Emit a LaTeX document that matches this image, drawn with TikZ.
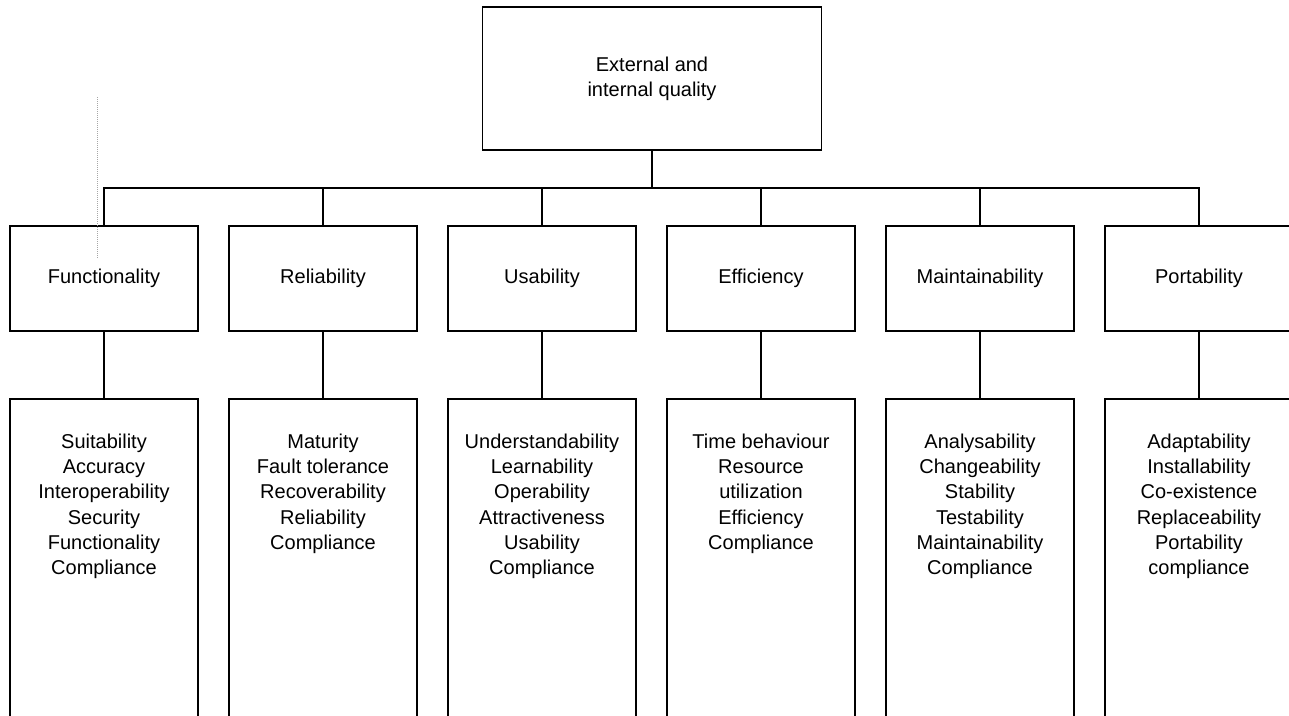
\documentclass[tikz,border=0pt]{standalone}
\usepackage{fontspec}
\setmainfont{Liberation Sans}
\usetikzlibrary{positioning}
\tikzset{node distance=21.85pt, % gap between two neighbouring boxes
      every node/.style={ % text of all boxes
      font=\fontsize{15}{19}\selectfont,
      align=center},
      box/.style={draw, line width=1.4pt, minimum width=141pt, minimum height=78.75pt, inner sep=0pt},
      listbox/.style={draw, line width=1.4pt, minimum width=141pt, minimum height=262pt, inner sep=0pt},
      listtext/.style={anchor=north, inner sep=0pt},
      link/.style={line width=1.4pt}}

\begin{document}
\begin{tikzpicture}
      \useasboundingbox (0,0) rectangle (966.75pt,-536.25pt);
      \clip (0,0) rectangle (966.75pt,-536.25pt);
      \node[draw, line width=1.4pt, minimum width=254.25pt, minimum height=107.25pt] (quality) at (489pt,-58.875pt) {External and\\internal quality};
      \node[box] (func) at (78pt,-208.875pt) {Functionality};
      \node[box, right=of func] (reli) {Reliability};
      \node[box, right=of reli] (usab) {Usability};
      \node[box, right=of usab] (effi) {Efficiency};
      \node[box, right=of effi] (main) {Maintainability};
      \node[box, right=of main] (port) {Portability};
      \foreach \n in {func,reli,usab,effi,main,port}
            \node[listbox, below=49.6pt of \n] (\n list) {};
      \node[listtext, below=26.5pt of funclist.north] {Suitability\\Accuracy\\Interoperability\\Security\\Functionality\\Compliance};
      \node[listtext, below=26.5pt of relilist.north] {Maturity\\Fault tolerance\\Recoverability\\Reliability\\Compliance};
      \node[listtext, below=26.5pt of usablist.north] {Understandability\\Learnability\\Operability\\Attractiveness\\Usability\\Compliance};
      \node[listtext, below=26.5pt of effilist.north] {Time behaviour\\Resource\\utilization\\Efficiency\\Compliance};
      \node[listtext, below=26.5pt of mainlist.north] {Analysability\\Changeability\\Stability\\Testability\\Maintainability\\Compliance};
      \node[listtext, below=26.5pt of portlist.north] {Adaptability\\Installability\\Co-existence\\Replaceability\\Portability\\compliance};
      \coordinate (bus) at (489pt,-141pt);
      \draw[link] (quality.south) -- (bus);
      \foreach \n in {func,reli,usab,effi,main,port} {
            \draw[link] (\n.north) |- (bus);
            \draw[link] (\n.south) -- (\n list.north);
      }
      \draw[gray!70, densely dotted, line width=0.5pt] (72.75pt,-72.75pt) -- (72.75pt,-193.5pt);
\end{tikzpicture}
\end{document}
